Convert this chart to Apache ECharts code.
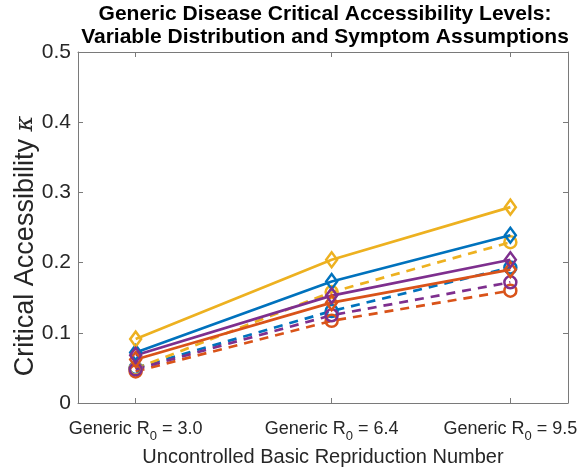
<!DOCTYPE html>
<html>
<head>
<meta charset="utf-8">
<script src="https://cdn.jsdelivr.net/npm/echarts@6/dist/echarts.min.js"></script>
<style>html,body{margin:0;padding:0;background:#fff}#c{width:588px;height:469px}</style>
</head>
<body>
<div id="c"></div>
<script>
// Uncontrolled basic reproduction numbers (x positions)
var r0Values = [3.0, 6.4, 9.5];
var r0Labels = ['3.0', '6.4', '9.5'];
var yTicks = [0, 0.1, 0.2, 0.3, 0.4, 0.5];

// Solid lines (diamond markers)
var blueSolid   = [0.072, 0.173, 0.239];
var orangeSolid = [0.062, 0.143, 0.190];
var yellowSolid = [0.091, 0.204, 0.279];
var purpleSolid = [0.068, 0.153, 0.204];

// Dashed lines (circle markers)
var blueDashed   = [0.050, 0.131, 0.193];
var orangeDashed = [0.045, 0.117, 0.160];
var yellowDashed = [0.049, 0.158, 0.229];
var purpleDashed = [0.048, 0.125, 0.172];

var C = {blue:'#0072BD', orange:'#D95319', yellow:'#EDB120', purple:'#7E2F8E'};
var FF = '"Liberation Sans", Arial, sans-serif';

function pairs(ys){ return r0Values.map(function(x,i){ return [x, ys[i]]; }); }

function mk(name, ys, color, dashed){
  return {
    name: name, type: 'line', data: pairs(ys),
    xAxisIndex: 0, yAxisIndex: 0,
    symbol: dashed ? 'circle' : 'diamond',
    symbolSize: dashed ? 12 : [11, 15],
    showAllSymbol: true,
    lineStyle: {color: color, width: 2.7, type: dashed ? [9, 7] : 'solid'},
    itemStyle: {color: 'rgba(255,255,255,0)', borderColor: color, borderWidth: 2.5},
    emphasis: {disabled: true},
    silent: true, animation: false, z: dashed ? 2 : 3
  };
}

var axisColor = '#7a7a7a';
var chart = echarts.init(document.getElementById('c'), null, {renderer:'canvas'});
chart.setOption({
  animation: false,
  grid: {left: 78, right: 20, top: 52, bottom: 66, containLabel: false, outerBoundsMode: 'none'},
  graphic: [{
    type: 'text', x: 325, y: 3,
    style: {
      text: 'Generic Disease Critical Accessibility Levels:\nVariable Distribution and Symptom Assumptions',
      fill: '#000', font: 'bold 21px ' + FF,
      textAlign: 'center', lineHeight: 23
    }
  }, {
    type: 'text', x: 26, y: 246, rotation: Math.PI / 2,
    style: {
      text: '{a|Critical Accessibility }{k|κ}',
      textAlign: 'center', textVerticalAlign: 'middle',
      rich: {
        a: {fontSize: 27, fill: '#262626', fontFamily: FF},
        k: {fontSize: 24, fontStyle: 'italic', fill: '#262626', fontFamily: '"DejaVu Serif", serif'}
      }
    }
  }],
  xAxis: [{
    type: 'value', min: 2, max: 10.5, position: 'bottom',
    axisLine: {show: true, onZero: false, lineStyle: {color: axisColor, width: 1}},
    axisTick: {show: true, inside: true, length: 5, customValues: r0Values, lineStyle: {color: axisColor}},
    splitLine: {show: false},
    axisLabel: {
      customValues: r0Values, margin: 12, color: '#262626',
      fontFamily: FF, fontSize: 18,
      formatter: function(v){
        var i = r0Values.indexOf(v);
        return '{a|Generic R}{s|0}{a| = ' + r0Labels[i] + '}';
      },
      rich: {
        a: {fontSize: 18, color: '#262626', fontFamily: FF},
        s: {fontSize: 13, color: '#262626', fontFamily: FF, padding: [15, 0, 0, 0]}
      }
    },
    name: 'Uncontrolled Basic Repriduction Number', nameLocation: 'middle', nameGap: 38,
    nameTextStyle: {fontSize: 20, color: '#262626', fontFamily: FF}
  }, {
    type: 'value', min: 2, max: 10.5, position: 'top',
    axisLine: {show: true, onZero: false, lineStyle: {color: axisColor, width: 1}},
    axisTick: {show: true, inside: true, length: 5, customValues: r0Values, lineStyle: {color: axisColor}},
    axisLabel: {show: false}, splitLine: {show: false}
  }],
  yAxis: [{
    type: 'value', min: 0, max: 0.5, interval: 0.1, position: 'left',
    axisLine: {show: true, lineStyle: {color: axisColor, width: 1}},
    axisTick: {show: true, inside: true, length: 5, lineStyle: {color: axisColor}},
    splitLine: {show: false},
    axisLabel: {
      margin: 7, color: '#262626', fontSize: 21, fontFamily: FF,
      formatter: function(v){ return v === 0 ? '0' : v.toFixed(1); }
    }
  }, {
    type: 'value', min: 0, max: 0.5, interval: 0.1, position: 'right',
    axisLine: {show: true, lineStyle: {color: axisColor, width: 1}},
    axisTick: {show: true, inside: true, length: 5, lineStyle: {color: axisColor}},
    axisLabel: {show: false}, splitLine: {show: false}
  }],
  series: [
    mk('blue dashed', blueDashed, C.blue, true),
    mk('orange dashed', orangeDashed, C.orange, true),
    mk('yellow dashed', yellowDashed, C.yellow, true),
    mk('purple dashed', purpleDashed, C.purple, true),
    mk('blue solid', blueSolid, C.blue, false),
    mk('orange solid', orangeSolid, C.orange, false),
    mk('yellow solid', yellowSolid, C.yellow, false),
    mk('purple solid', purpleSolid, C.purple, false)
  ]
});
</script>
</body>
</html>
